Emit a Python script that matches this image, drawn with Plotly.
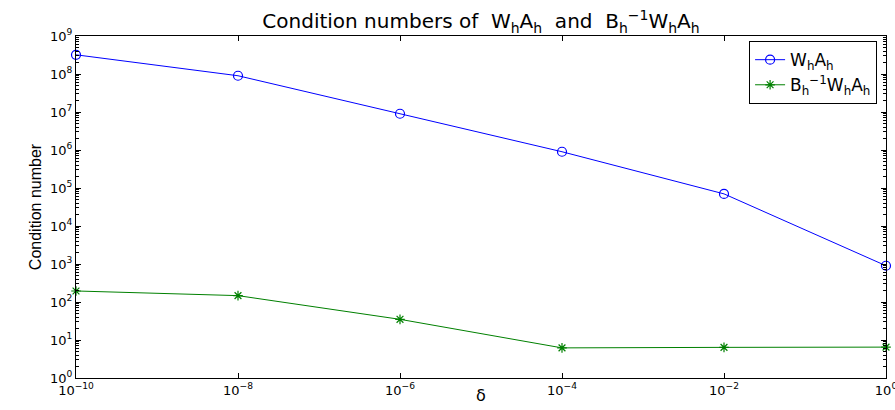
import plotly.graph_objects as go

delta = [1e-10, 1e-8, 1e-6, 1e-4, 1e-2, 1e0]
cond_WA = [3.2e8, 9.0e7, 9.0e6, 9.0e5, 7.0e4, 9.0e2]
cond_BWA = [195, 147, 35, 6.2, 6.4, 6.5]

xtick_vals = [1e-10, 1e-8, 1e-6, 1e-4, 1e-2, 1e0]
xtick_text = ["10<sup>\u221210</sup>", "10<sup>\u22128</sup>", "10<sup>\u22126</sup>",
              "10<sup>\u22124</sup>", "10<sup>\u22122</sup>", "10<sup>0</sup>"]
ytick_vals = [10 ** k for k in range(10)]
ytick_text = ["10<sup>%d</sup>" % k for k in range(10)]

name_WA = "W<sub>h</sub>A<sub>h</sub>"
name_BWA = "B<sub>h</sub><sup>\u22121</sup>W<sub>h</sub>A<sub>h</sub>"

FONT = "DejaVu Sans, Liberation Sans, Arial, sans-serif"

fig = go.Figure()
fig.add_trace(go.Scatter(x=delta, y=cond_WA, mode="lines+markers", name=name_WA,
                         line=dict(color="#0000ff", width=1),
                         marker=dict(symbol="circle-open", size=9, color="#0000ff",
                                     line=dict(width=1.2, color="#0000ff")),
                         cliponaxis=False))
fig.add_trace(go.Scatter(x=delta, y=cond_BWA, mode="lines+markers", name=name_BWA,
                         line=dict(color="#008000", width=1),
                         marker=dict(symbol="asterisk-open", size=8, color="#008000",
                                     line=dict(width=1.2, color="#008000")),
                         cliponaxis=False))

axis_common = dict(type="log", showline=True, linecolor="black", linewidth=1,
                   mirror="ticks", ticks="inside", tickcolor="black", showgrid=False,
                   zeroline=False, automargin=False, ticklabeloverflow="allow",
                   tickfont=dict(family=FONT, size=13, color="black"))

fig.update_xaxes(**axis_common, range=[-10, 0], tickmode="array",
                 tickvals=xtick_vals, ticktext=xtick_text, ticklen=5)
fig.update_yaxes(**axis_common, range=[0, 9], tickmode="array",
                 tickvals=ytick_vals, ticktext=ytick_text, ticklen=5,
                 minor=dict(ticks="inside", ticklen=3, tickcolor="black", dtick="D1",
                            showgrid=False),
                 title=dict(text="Condition number", standoff=4,
                            font=dict(family="Liberation Sans Narrow, Liberation Sans, Arial",
                                      size=16, color="black")))

fig.add_annotation(text="\u03b4", x=0.5, y=0, xref="paper", yref="paper",
                   xanchor="center", yanchor="top", yshift=-6, showarrow=False,
                   font=dict(family=FONT, size=16, color="black"))

fig.update_layout(
    width=895, height=410,
    margin=dict(l=76, r=9, t=36, b=32, autoexpand=False),
    paper_bgcolor="white", plot_bgcolor="white",
    title=dict(text="Condition numbers of  " + name_WA + "  and  " + name_BWA,
               x=0.5, xref="paper", xanchor="center", y=0.965, yanchor="top",
               automargin=False,
               font=dict(family=FONT, size=20, color="black")),
    legend=dict(x=0.989, y=0.985, xanchor="right", yanchor="top",
                bgcolor="white", bordercolor="black", borderwidth=1,
                font=dict(family=FONT, size=17, color="black"),
                tracegroupgap=0),
    showlegend=True,
)

fig.write_html("out.html", config={"displayModeBar": False},
               post_script="document.body.style.margin='0';document.body.style.overflow='hidden';")
